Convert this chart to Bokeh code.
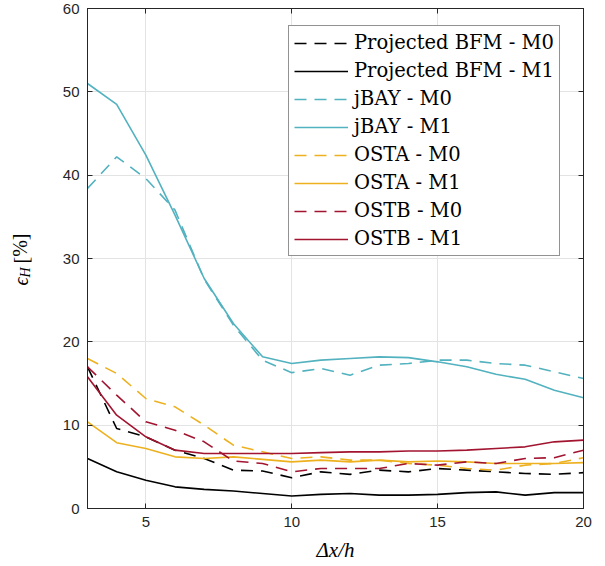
from bokeh.plotting import figure
from bokeh.models import Range1d, LinearAxis, Legend, LegendItem, Label, FixedTicker
from bokeh.embed import file_html
from bokeh.resources import INLINE

dx = [3, 4, 5, 6, 7, 8, 9, 10, 11, 12, 13, 14, 15, 16, 17, 18, 19, 20]

bfm_m0 = [17.0, 9.6, 8.6, 7.0, 6.0, 4.6, 4.5, 3.7, 4.4, 4.1, 4.6, 4.4, 4.8, 4.6, 4.4, 4.2, 4.1, 4.3]
bfm_m1 = [6.0, 4.4, 3.4, 2.6, 2.3, 2.1, 1.8, 1.5, 1.7, 1.8, 1.6, 1.6, 1.7, 1.9, 2.0, 1.6, 1.9, 1.9]
jbay_m0 = [38.4, 42.2, 39.6, 35.8, 27.5, 22.0, 17.8, 16.3, 16.8, 16.0, 17.2, 17.4, 17.8, 17.8, 17.4, 17.2, 16.4, 15.6]
jbay_m1 = [51.0, 48.5, 42.4, 35.2, 27.6, 22.2, 18.2, 17.4, 17.8, 18.0, 18.2, 18.1, 17.6, 17.0, 16.1, 15.5, 14.2, 13.3]
osta_m0 = [18.0, 16.2, 13.2, 12.2, 10.0, 7.6, 6.8, 6.0, 6.2, 5.8, 5.8, 5.4, 5.2, 4.8, 4.6, 5.2, 5.4, 6.1]
osta_m1 = [10.4, 7.9, 7.2, 6.2, 6.0, 6.2, 5.9, 5.6, 5.8, 5.6, 5.8, 5.6, 5.7, 5.6, 5.4, 5.4, 5.4, 5.5]
ostb_m0 = [17.0, 13.6, 10.4, 9.4, 8.0, 5.7, 5.4, 4.4, 4.8, 4.8, 4.8, 5.4, 5.2, 5.6, 5.4, 6.0, 6.1, 7.0]
ostb_m1 = [15.8, 11.2, 8.6, 7.0, 6.6, 6.6, 6.6, 6.6, 6.7, 6.8, 6.8, 6.9, 6.9, 7.0, 7.2, 7.4, 8.0, 8.2]

x_ticks = [5, 10, 15, 20]
y_ticks = [0, 10, 20, 30, 40, 50, 60]

series = [
    ("Projected BFM - M0", bfm_m0, "#000000", "dashed"),
    ("Projected BFM - M1", bfm_m1, "#000000", "solid"),
    ("jBAY - M0", jbay_m0, "#52B2BF", "dashed"),
    ("jBAY - M1", jbay_m1, "#52B2BF", "solid"),
    ("OSTA - M0", osta_m0, "#EDB120", "dashed"),
    ("OSTA - M1", osta_m1, "#EDB120", "solid"),
    ("OSTB - M0", ostb_m0, "#A2142F", "dashed"),
    ("OSTB - M1", ostb_m1, "#A2142F", "solid"),
]

p = figure(width=597, height=566, output_backend="svg", toolbar_location=None,
           x_range=Range1d(3, 20), y_range=Range1d(0, 60),
           min_border_left=73, min_border_right=14, min_border_top=8, min_border_bottom=58,
           x_axis_location=None, y_axis_location=None)
p.background_fill_color = "white"
p.border_fill_color = "white"
p.outline_line_color = "#262626"
p.outline_line_width = 1

def style_axis(ax, labels=True):
    ax.major_tick_in = 5
    ax.major_tick_out = 0
    ax.minor_tick_line_color = None
    ax.axis_line_color = "#262626"
    ax.major_tick_line_color = "#262626"
    ax.major_label_text_font = "Liberation Sans"
    ax.major_label_text_font_size = "15px"
    ax.major_label_text_color = "#262626"
    if not labels:
        ax.major_label_overrides = {t: "" for t in ax.ticker.ticks}
        ax.major_label_standoff = 0

xb = LinearAxis(ticker=FixedTicker(ticks=x_ticks))
style_axis(xb)
xb.major_label_standoff = 8
xb.axis_label = "Δx/h"
xb.axis_label_text_font = "Liberation Serif"
xb.axis_label_text_font_style = "italic"
xb.axis_label_text_font_size = "21px"
xb.axis_label_text_color = "#000000"
xb.axis_label_standoff = 8
p.add_layout(xb, "below")
yl = LinearAxis(ticker=FixedTicker(ticks=y_ticks))
style_axis(yl)
yl.major_label_standoff = 8
p.add_layout(yl, "left")
xt = LinearAxis(ticker=FixedTicker(ticks=x_ticks))
style_axis(xt, labels=False)
p.add_layout(xt, "above")
yr = LinearAxis(ticker=FixedTicker(ticks=y_ticks))
style_axis(yr, labels=False)
p.add_layout(yr, "right")

p.xgrid.ticker = FixedTicker(ticks=x_ticks)
p.ygrid.ticker = FixedTicker(ticks=y_ticks)
p.xgrid.grid_line_color = "#e3e3e3"
p.ygrid.grid_line_color = "#e3e3e3"

items = []
for name, ys, col, dash in series:
    r = p.line(dx, ys, line_color=col, line_width=1.6,
               line_dash="12 8" if dash == "dashed" else "solid")
    items.append(LegendItem(label=name, renderers=[r]))

legend = Legend(items=items, location=(201, 252))
legend.label_text_font = "DejaVu Serif"
legend.label_text_font_size = "19.5px"
legend.label_text_color = "#000000"
legend.glyph_width = 54
legend.glyph_height = 20
legend.label_height = 20
legend.spacing = 5
legend.padding = 5
legend.margin = 0
legend.label_standoff = 6
legend.border_line_color = "#262626"
legend.border_line_width = 1
legend.background_fill_alpha = 1
p.add_layout(legend, "center")

# y axis label pieces (epsilon with subscript H), placed in the left side panel
ylab = dict(x_units="canvas", y_units="canvas", text_color="#000000",
            angle=1.5708, text_align="left", text_baseline="middle")
p.add_layout(Label(x=20, y=285, text="ϵ", text_font="Liberation Serif", text_font_style="italic",
                   text_font_size="20px", **ylab), "left")
p.add_layout(Label(x=25, y=277, text="H", text_font="Liberation Serif", text_font_style="italic",
                   text_font_size="14px", **ylab), "left")
p.add_layout(Label(x=20, y=263, text="[%]", text_font="Liberation Serif",
                   text_font_size="20px", **ylab), "left")

open("out.html", "w").write(file_html(p, INLINE))
